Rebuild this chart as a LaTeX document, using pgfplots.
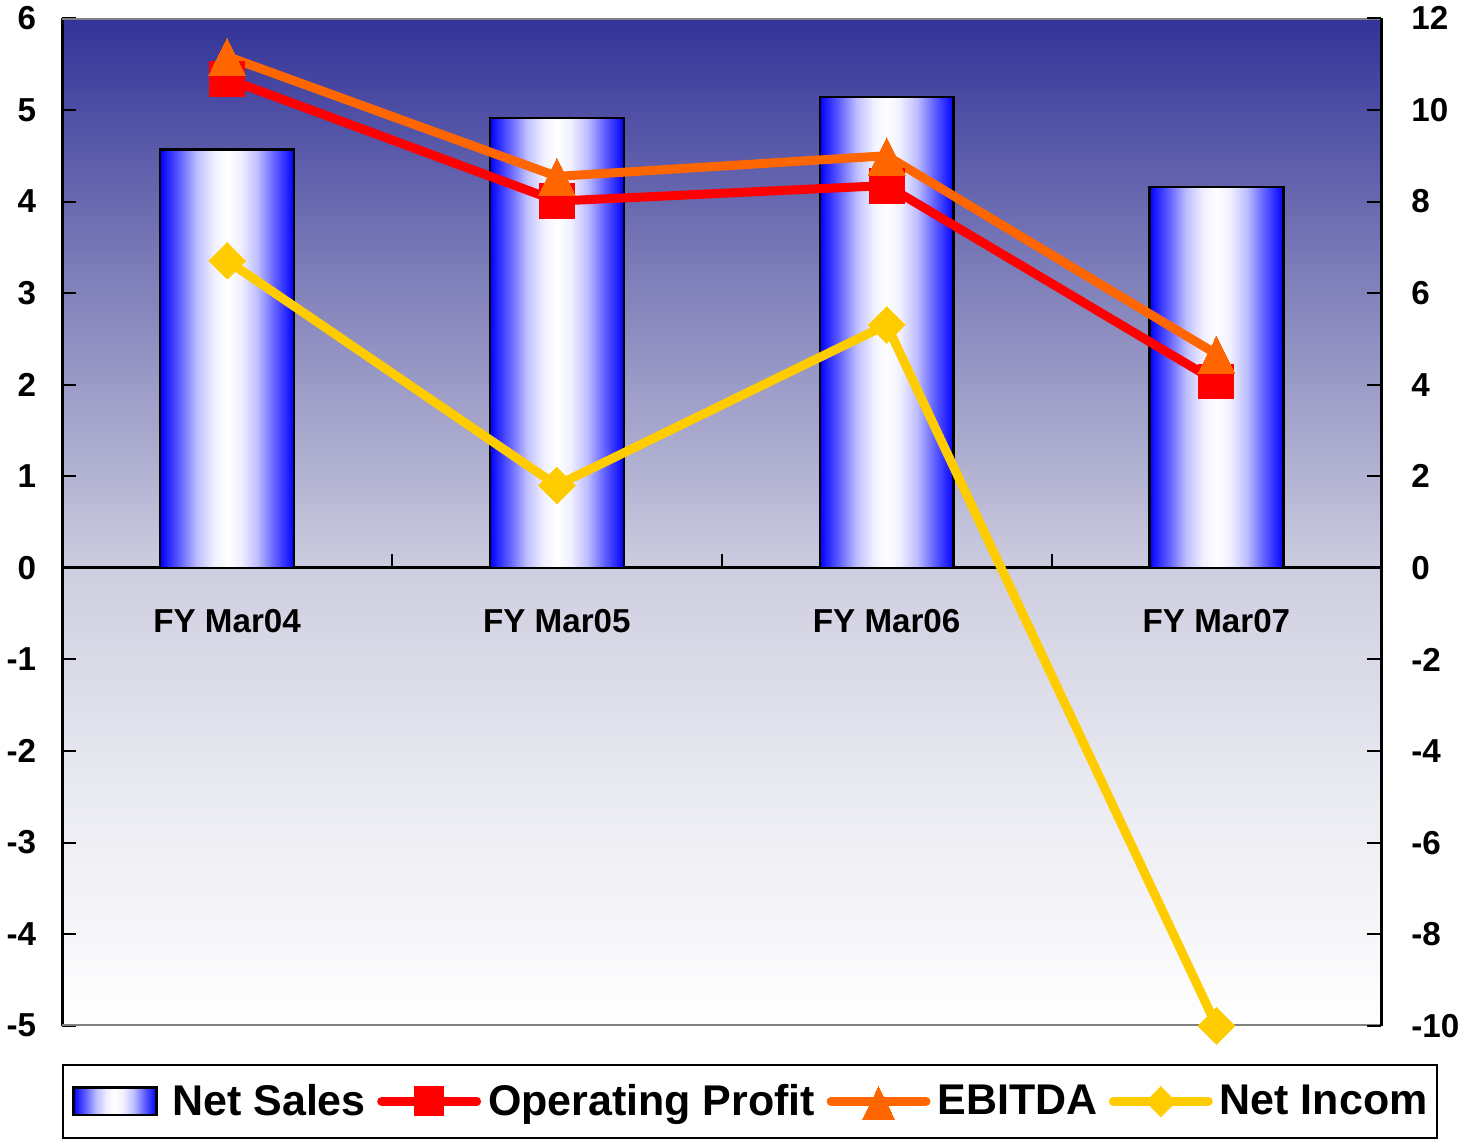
\documentclass[border=0pt]{standalone}
\usepackage{fontspec}
\setmainfont{Liberation Sans}
\usepackage{pgfplots}
\pgfplotsset{compat=1.18}

\definecolor{bgtop}{RGB}{51,51,153}
\definecolor{bgA}{RGB}{232,232,240}
\definecolor{bgB}{RGB}{206,206,224}
\definecolor{bgC}{RGB}{178,178,210}
\definecolor{bgD}{RGB}{125,125,185}
\definecolor{opred}{RGB}{255,0,0}
\definecolor{ebitda}{RGB}{255,102,0}
\definecolor{netinc}{RGB}{255,204,0}
\definecolor{barblue}{RGB}{0,0,255}
\definecolor{barA}{RGB}{100,100,255}
\definecolor{barB}{RGB}{190,190,255}
\definecolor{barC}{RGB}{240,240,255}

% plot area: dark blue at the top, nearly white at the bottom
\pgfdeclareverticalshading{bgshade}{100bp}{color(0bp)=(white); color(25bp)=(white);
  color(37.5bp)=(bgA); color(47.5bp)=(bgB); color(52.5bp)=(bgC);
  color(62.5bp)=(bgD); color(75bp)=(bgtop); color(100bp)=(bgtop)}
% bars: blue at the edges, white in the middle
\pgfdeclarehorizontalshading{barshade}{100bp}{color(0bp)=(barblue); color(25bp)=(barblue);
  color(32.5bp)=(barA); color(38.75bp)=(barB); color(45bp)=(barC); color(50bp)=(white);
  color(55bp)=(barC); color(61.25bp)=(barB); color(67.5bp)=(barA);
  color(75bp)=(barblue); color(100bp)=(barblue)}

\pgfplotsset{
  base/.style={
    scale only axis, width=660pt, height=504pt,
    xmin=-0.5, xmax=3.5,
    tick label style={font=\fontsize{16.6}{18}\selectfont\bfseries},
    /pgf/number format/assume math mode=true,
    tick align=inside,
    major tick length=7pt,
    every tick/.style={black, line width=1pt},
    axis line style={black, line width=1.5pt, -},
    hide obscured x ticks=false, hide obscured y ticks=false,
  },
  salesbar/.style={ybar, bar width=67pt, bar shift=0pt, draw=black,
    line width=1.2pt, shading=barshade},
  lineimg/.style={legend image code/.code={
    \draw[mark repeat=2, mark phase=2, line cap=round, ##1, #1]
      plot coordinates {(0pt,0pt) (23.75pt,0pt) (47.5pt,0pt)};}},
}

\begin{document}
\begin{tikzpicture}
% left axis: background, bars, category axis
\begin{axis}[base,
  axis background/.style={shading=bgshade},
  ymin=-5, ymax=6, ytick={-5,...,6},
  axis y line*=left,
  axis x line*=middle,
  xtick={0,1,2,3},
  xticklabels={FY Mar04, FY Mar05, FY Mar06, FY Mar07},
  xtick style={draw=none},
  extra x ticks={0.5,1.5,2.5},
  extra x tick labels={},
  extra x tick style={xtick style={draw=black, line width=1pt}},
  xticklabel style={yshift=-17pt},
  yticklabel style={xshift=-9.5pt},
]
\draw[gray, line width=1.5pt] (rel axis cs:0,1) -- (rel axis cs:1,1);
\draw[gray, line width=1.5pt] (rel axis cs:0,0) -- (rel axis cs:1,0);
\addplot[salesbar] coordinates {(0,4.57)};
\addplot[salesbar] coordinates {(1,4.91)};
\addplot[salesbar] coordinates {(2,5.14)};
\addplot[salesbar] coordinates {(3,4.16)};
\end{axis}

% right axis: lines and legend
\begin{axis}[base,
  ymin=-10, ymax=12, ytick={-10,-8,...,12},
  axis y line*=right,
  axis x line=none, xtick=\empty,
  yticklabel style={xshift=11.5pt},
  legend columns=-1,
  legend style={at={(0,-0.0377)}, anchor=north west,
    draw=black, line width=1pt, fill=white,
    font=\fontsize{21.5}{24}\selectfont\bfseries,
    nodes={inner xsep=0pt, inner ysep=2pt},
    inner xsep=4.5pt, inner ysep=7.75pt,
    /tikz/every odd column/.append style={column sep=3.5pt},
    /tikz/every even column/.append style={column sep=5.7pt}},
]
\addlegendimage{legend image code/.code={
  \draw[draw=black, line width=1.2pt, shading=barshade]
    (0pt,-6.8pt) rectangle (41.5pt,6.8pt);
  \path (45.5pt,0pt);}}
\addlegendentry{Net Sales}

\addplot[opred, line width=4.5pt, mark=square*, mark size=8.75pt,
  mark options={solid, line width=0pt}, lineimg={mark size=7.25pt}]
  coordinates {(0,10.68) (1,8.01) (2,8.35) (3,4.07)};
\addlegendentry{Operating Profit}

\addplot[ebitda, line width=4.5pt, mark=triangle*, mark size=10.7pt,
  mark options={solid, line width=0pt, yscale=1.17, yshift=-3pt}, lineimg={mark size=9.2pt}]
  coordinates {(0,11.17) (1,8.55) (2,9.0) (3,4.67)};
\addlegendentry{EBITDA\hspace{-3pt}}

\addplot[netinc, line width=4.5pt, mark=square*, mark size=6.5pt,
  mark options={solid, line width=0pt, rotate=45}, lineimg={mark size=5.3pt}]
  coordinates {(0,6.71) (1,1.80) (2,5.31) (3,-10.0)};
\addlegendentry{Net Incom}
\end{axis}
\end{tikzpicture}
\end{document}
